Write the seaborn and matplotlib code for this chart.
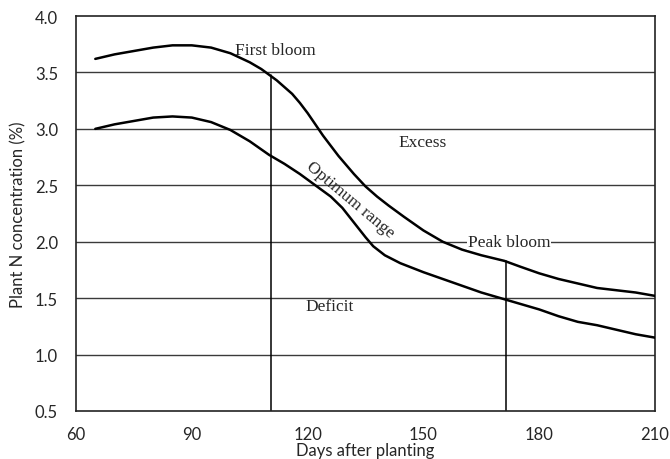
import matplotlib
matplotlib.use("Agg")
import matplotlib.pyplot as plt
import pandas as pd
import seaborn as sns

# values
days_upper = [65, 70, 75, 80, 85, 90, 95, 100, 105, 108, 110, 112, 114, 116, 118, 120, 122, 124, 126,
              128, 130, 132, 135, 138, 141, 145, 150, 155, 160, 165, 171, 175, 180, 185, 190, 195,
              200, 205, 210]
upper = [3.62, 3.66, 3.69, 3.72, 3.74, 3.74, 3.72, 3.67, 3.59, 3.53, 3.48, 3.43, 3.37, 3.31, 3.23,
         3.14, 3.04, 2.94, 2.85, 2.76, 2.68, 2.60, 2.49, 2.40, 2.32, 2.22, 2.10, 2.00, 1.93, 1.88,
         1.83, 1.78, 1.72, 1.67, 1.63, 1.59, 1.57, 1.55, 1.52]

days_lower = [65, 70, 75, 80, 85, 90, 95, 100, 105, 110, 114, 118, 122, 126, 129, 132, 135, 137,
              140, 144, 150, 155, 160, 165, 171, 175, 180, 185, 190, 195, 200, 205, 210]
lower = [3.00, 3.04, 3.07, 3.10, 3.11, 3.10, 3.06, 2.99, 2.89, 2.77, 2.69, 2.60, 2.50, 2.40, 2.30,
         2.17, 2.04, 1.96, 1.88, 1.81, 1.73, 1.67, 1.61, 1.55, 1.49, 1.45, 1.40, 1.34, 1.29, 1.26,
         1.22, 1.18, 1.15]

stage_days = [110.4, 171.4]
stage_tops = [3.48, 1.83]

labels = ["First bloom", "Excess", "Optimum range", "Peak bloom", "Deficit"]
label_x = [111.6, 149.8, 131.0, 172.2, 125.8]
label_y = [3.70, 2.88, 2.38, 2.00, 1.43]
label_rot = [0, 0, -40, 0, 0]

x_ticks = [60, 90, 120, 150, 180, 210]
y_ticks = [0.5, 1.0, 1.5, 2.0, 2.5, 3.0, 3.5, 4.0]

sns.set_style("white")
plt.rcParams["font.family"] = ["Lato", "DejaVu Sans"]

fig, ax = plt.subplots(figsize=(6.7, 4.6), dpi=100)
fig.subplots_adjust(left=76 / 670, right=655 / 670, top=1 - 17 / 460, bottom=1 - 412 / 460)

for y in y_ticks[1:-1]:
    ax.axhline(y, color="#3a3a3a", lw=1.0, zorder=1)

df_up = pd.DataFrame({"day": days_upper, "N": upper})
df_lo = pd.DataFrame({"day": days_lower, "N": lower})
sns.lineplot(data=df_up, x="day", y="N", color="black", lw=1.8, ax=ax, zorder=3)
sns.lineplot(data=df_lo, x="day", y="N", color="black", lw=1.8, ax=ax, zorder=3)

for d, top in zip(stage_days, stage_tops):
    ax.plot([d, d], [0.5, top], color="black", lw=1.1, zorder=2)

for txt, x, y, r in zip(labels, label_x, label_y, label_rot):
    kw = {}
    if txt == "Peak bloom":
        kw["bbox"] = dict(facecolor="white", edgecolor="none", pad=0.5)
    ax.text(x, y, txt, family="Liberation Serif", fontsize=12.5, rotation=r,
            ha="center", va="center", zorder=4, **kw)

ax.set_xlim(60, 210)
ax.set_ylim(0.5, 4.0)
ax.set_xticks(x_ticks)
ax.set_yticks(y_ticks)
ax.set_yticklabels([f"{v:.1f}" for v in y_ticks])
ax.tick_params(axis="x", direction="in", length=5, width=1, color="#222222", pad=11, labelsize=12)
ax.tick_params(axis="y", length=0, pad=13, labelsize=12)
ax.set_xlabel("Days after planting", fontsize=12, labelpad=0)
ax.set_ylabel("Plant N concentration (%)", fontsize=12, labelpad=6)

for s in ax.spines.values():
    s.set_color("#222222")
    s.set_linewidth(1.2)

fig.savefig("out.png", dpi=100)
